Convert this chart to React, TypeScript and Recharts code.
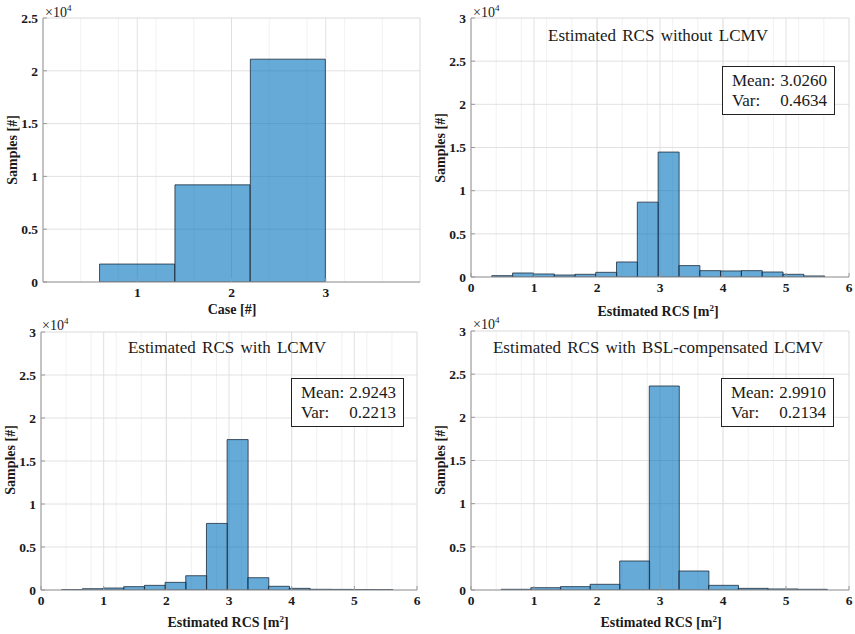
import { ComposedChart, Bar, XAxis, YAxis, CartesianGrid } from 'recharts'

// bin centres and counts
const caseCenters = [1.0, 1.8, 2.6]
const caseCounts = [1700, 9200, 21100]

const rcsCenters = [0.495, 0.825, 1.155, 1.485, 1.815, 2.145, 2.475, 2.805, 3.135, 3.465, 3.795, 4.125, 4.455, 4.785, 5.115, 5.445]
const noLcmvCounts = [155, 465, 350, 230, 310, 540, 1740, 8670, 14470, 1320, 735, 700, 735, 580, 310, 120]
const lcmvCounts = [40, 150, 230, 390, 540, 890, 1660, 7740, 17490, 1430, 430, 190, 80, 70, 50, 40]

const bslCenters = [0.715, 1.185, 1.655, 2.125, 2.595, 3.065, 3.535, 4.005, 4.475, 4.945, 5.415]
const bslCounts = [80, 270, 390, 660, 3360, 23630, 2200, 540, 190, 120, 80]

const caseTicks = [1, 2, 3]
const rcsTicks = [0, 1, 2, 3, 4, 5, 6]
const caseCountTicks = [0, 5000, 10000, 15000, 20000, 25000]
const countTicks = [0, 5000, 10000, 15000, 20000, 25000, 30000]

const stats = [
  { mean: '3.0260', variance: '0.4634' },
  { mean: '2.9243', variance: '0.2213' },
  { mean: '2.9910', variance: '0.2134' },
]

const serif = '"Liberation Serif", "DejaVu Serif", serif'
const boxColor = '#9a9a9a'

const steps = (max: number, step: number) =>
  Array.from({ length: Math.round(max / step) + 1 }, (_, i) => +(i * step).toFixed(4))

const toRows = (xs: number[], ys: number[]) => xs.map((x, i) => ({ x, count: ys[i] }))

const yFmt = (v: number) => (v === 0 ? '0' : String(v / 10000))

function XTick({ x, y, payload }: any) {
  return (
    <text x={x} y={y} dy="0.71em" textAnchor="middle" fill="#1a1a1a"
      style={{ fontFamily: serif, fontSize: 13.5, fontWeight: 700 }}>
      {payload.value}
    </text>
  )
}

function YTick({ x, y, payload }: any) {
  return (
    <text x={x} y={y} dy="0.355em" textAnchor="end" fill="#1a1a1a"
      style={{ fontFamily: serif, fontSize: 13.5, fontWeight: 700 }}>
      {yFmt(payload.value)}
    </text>
  )
}

type PanelProps = {
  left: number
  top: number
  width: number
  height: number
  margin: { top: number; right: number; bottom: number; left: number }
  rows: { x: number; count: number }[]
  xMax: number
  xTicks: number[]
  xMinor: number
  yMax: number
  yTicks: number[]
}

function Panel({ left, top, width, height, margin, rows, xMax, xTicks, xMinor, yMax, yTicks }: PanelProps) {
  return (
    <div style={{ position: 'absolute', left, top }}>
      <ComposedChart width={width} height={height} data={rows} margin={margin} barCategoryGap={0} barGap={0}>
        <XAxis xAxisId="minor" type="number" dataKey="x" domain={[0, xMax]} ticks={steps(xMax, xMinor)} hide />
        <YAxis yAxisId="minor" type="number" domain={[0, yMax]} ticks={steps(yMax, 1000)} hide />
        <CartesianGrid xAxisId="minor" yAxisId="minor" stroke="#eeeeee" strokeWidth={0.8} />
        <CartesianGrid stroke="#dadada" strokeWidth={0.8} />
        <XAxis
          type="number" dataKey="x" domain={[0, xMax]} ticks={xTicks} allowDataOverflow
          height={20} tickSize={-4} tickMargin={9} tick={<XTick />}
          axisLine={{ stroke: boxColor }} tickLine={{ stroke: boxColor }}
        />
        <XAxis
          xAxisId="top" orientation="top" type="number" dataKey="x" domain={[0, xMax]} ticks={xTicks}
          height={0} tickSize={-4} tickFormatter={() => ''}
          axisLine={{ stroke: boxColor }} tickLine={{ stroke: boxColor }}
        />
        <YAxis
          type="number" domain={[0, yMax]} ticks={yTicks} allowDataOverflow
          width={33} tickSize={-4} tickMargin={9} tick={<YTick />}
          axisLine={{ stroke: boxColor }} tickLine={{ stroke: boxColor }}
        />
        <YAxis
          yAxisId="right" orientation="right" type="number" domain={[0, yMax]} ticks={yTicks}
          width={0} tickSize={-4} tickFormatter={() => ''}
          axisLine={{ stroke: boxColor }} tickLine={{ stroke: boxColor }}
        />
        <Bar dataKey="count" fill="#0072BD" fillOpacity={0.6} stroke="#1d2c3c" strokeWidth={0.8} isAnimationActive={false} />
      </ComposedChart>
    </div>
  )
}

function Label({ x, y, children, rotate, bold = true, size = 14 }: {
  x: number; y: number; children: React.ReactNode; rotate?: boolean; bold?: boolean; size?: number
}) {
  return (
    <div style={{
      position: 'absolute', left: x, top: y, whiteSpace: 'nowrap',
      transform: `translate(-50%, -50%)${rotate ? ' rotate(-90deg)' : ''}`,
      fontFamily: serif, fontSize: size, fontWeight: bold ? 700 : 400, color: '#1a1a1a', lineHeight: 1,
      wordSpacing: bold ? 0 : 2,
    }}>
      {children}
    </div>
  )
}

function Exponent({ x, y }: { x: number; y: number }) {
  return (
    <div style={{ position: 'absolute', left: x, top: y, fontFamily: serif, fontSize: 14, color: '#1a1a1a', lineHeight: 1 }}>
      ×10<sup style={{ fontSize: 9 }}>4</sup>
    </div>
  )
}

function StatBox({ x, y, mean, variance }: { x: number; y: number; mean: string; variance: string }) {
  return (
    <div style={{
      position: 'absolute', left: x, top: y, width: 113, height: 49, boxSizing: 'border-box',
      border: '1px solid #222', background: '#fff', fontFamily: serif, fontSize: 17, color: '#1a1a1a',
      display: 'grid', gridTemplateColumns: 'auto auto', alignContent: 'center', justifyContent: 'center',
      columnGap: 5, lineHeight: '20px', paddingLeft: 2,
    }}>
      <span>Mean:</span><span style={{ textAlign: 'right' }}>{mean}</span>
      <span>Var:</span><span style={{ textAlign: 'right' }}>{variance}</span>
    </div>
  )
}

const rcsLabel = <span>Estimated RCS [m<sup style={{ fontSize: 9 }}>2</sup>]</span>

export default function App() {
  return (
    <div style={{ position: 'absolute', left: 0, top: 0, width: 855, height: 634, background: '#fff', overflow: 'hidden' }}>
      <Panel left={0} top={0} width={428} height={315} margin={{ top: 18, right: 8, bottom: 13, left: 10 }}
        rows={toRows(caseCenters, caseCounts)} xMax={4} xTicks={caseTicks} xMinor={0.2} yMax={25000} yTicks={caseCountTicks} />
      <Panel left={428} top={0} width={427} height={315} margin={{ top: 18, right: 6, bottom: 18, left: 10 }}
        rows={toRows(rcsCenters, noLcmvCounts)} xMax={6} xTicks={rcsTicks} xMinor={0.2} yMax={30000} yTicks={countTicks} />
      <Panel left={0} top={315} width={428} height={319} margin={{ top: 17, right: 11, bottom: 24, left: 8 }}
        rows={toRows(rcsCenters, lcmvCounts)} xMax={6} xTicks={rcsTicks} xMinor={0.2} yMax={30000} yTicks={countTicks} />
      <Panel left={428} top={315} width={427} height={319} margin={{ top: 16, right: 6, bottom: 24, left: 10 }}
        rows={toRows(bslCenters, bslCounts)} xMax={6} xTicks={rcsTicks} xMinor={0.2} yMax={30000} yTicks={countTicks} />

      <Exponent x={45} y={4} />
      <Exponent x={473} y={4} />
      <Exponent x={42} y={317} />
      <Exponent x={473} y={316} />

      <Label x={13} y={150} rotate>Samples [#]</Label>
      <Label x={441} y={148} rotate>Samples [#]</Label>
      <Label x={11} y={460} rotate>Samples [#]</Label>
      <Label x={441} y={460} rotate>Samples [#]</Label>

      <Label x={232} y={310}>Case [#]</Label>
      <Label x={658} y={311}>{rcsLabel}</Label>
      <Label x={228} y={622}>{rcsLabel}</Label>
      <Label x={661} y={622}>{rcsLabel}</Label>

      <Label x={658} y={35} bold={false} size={17}>Estimated RCS without LCMV</Label>
      <Label x={227} y={347} bold={false} size={17}>Estimated RCS with LCMV</Label>
      <Label x={658} y={347} bold={false} size={17}>Estimated RCS with BSL-compensated LCMV</Label>

      <StatBox x={722} y={66} mean={stats[0].mean} variance={stats[0].variance} />
      <StatBox x={291} y={378} mean={stats[1].mean} variance={stats[1].variance} />
      <StatBox x={721} y={378} mean={stats[2].mean} variance={stats[2].variance} />
    </div>
  )
}
